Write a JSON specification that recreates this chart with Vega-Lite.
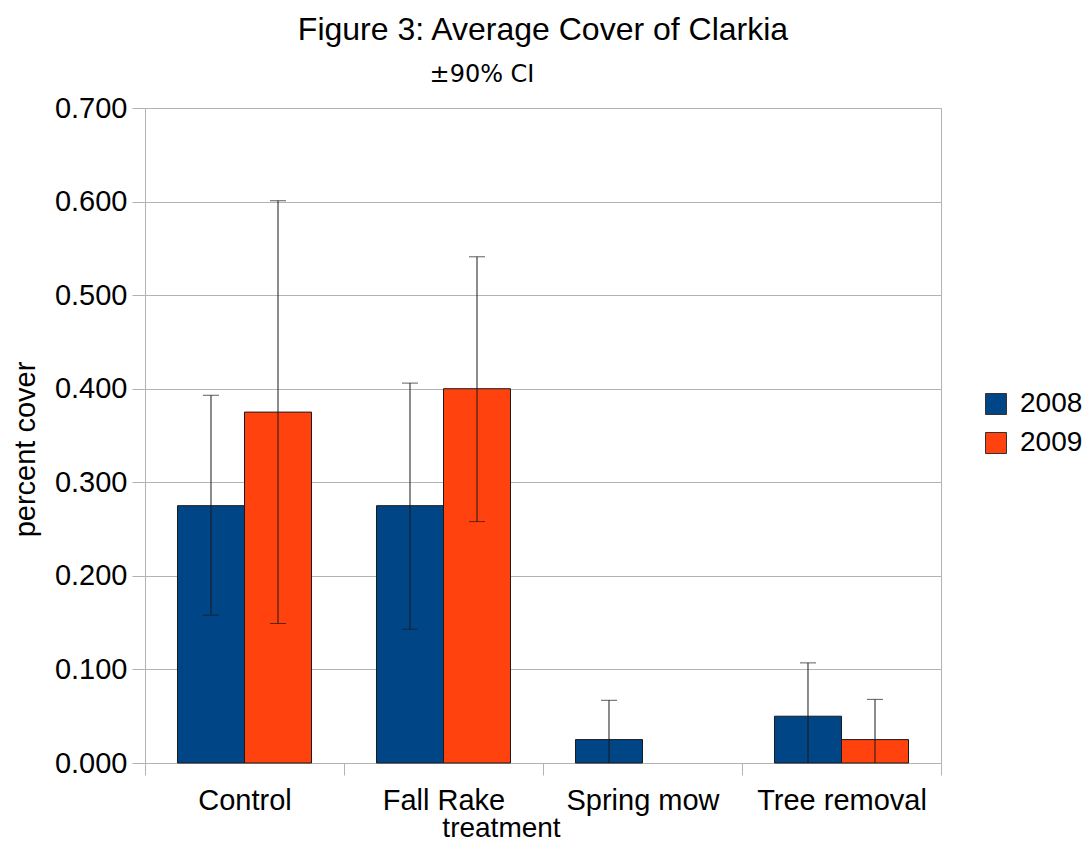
{
  "$schema": "https://vega.github.io/schema/vega-lite/v6.json",
  "width": 796,
  "height": 655,
  "autosize": {"type": "none"},
  "padding": {"left": 145, "top": 108, "right": 142, "bottom": 79},
  "background": "white",
  "title": {
    "text": "Figure 3: Average Cover of Clarkia",
    "subtitle": "±90% CI\u00a0\u00a0\u00a0\u00a0\u00a0\u00a0\u00a0\u00a0\u00a0\u00a0\u00a0\u00a0\u00a0\u00a0\u00a0\u00a0\u200b",
    "anchor": "middle",
    "frame": "group",
    "font": "Liberation Sans",
    "fontSize": 32,
    "fontWeight": "normal",
    "color": "black",
    "subtitleFont": "DejaVu Sans",
    "subtitleFontSize": 24,
    "subtitleColor": "black",
    "subtitlePadding": 16,
    "offset": 6
  },
  "config": {
    "font": "Liberation Sans",
    "view": {"stroke": "#b3b3b3", "strokeWidth": 1}
  },
  "data": {
    "values": [
      {"treatment": "Control", "year": "2008", "cover": 0.275, "lo": 0.158, "hi": 0.393},
      {"treatment": "Control", "year": "2009", "cover": 0.375, "lo": 0.149, "hi": 0.601},
      {"treatment": "Fall Rake", "year": "2008", "cover": 0.275, "lo": 0.143, "hi": 0.406},
      {"treatment": "Fall Rake", "year": "2009", "cover": 0.400, "lo": 0.258, "hi": 0.541},
      {"treatment": "Spring mow", "year": "2008", "cover": 0.025, "lo": 0.0, "hi": 0.067},
      {"treatment": "Spring mow", "year": "2009", "cover": 0.0, "lo": null, "hi": null},
      {"treatment": "Tree removal", "year": "2008", "cover": 0.050, "lo": 0.0, "hi": 0.107},
      {"treatment": "Tree removal", "year": "2009", "cover": 0.025, "lo": 0.0, "hi": 0.068}
    ]
  },
  "encoding": {
    "x": {
      "field": "treatment",
      "type": "nominal",
      "sort": ["Control", "Fall Rake", "Spring mow", "Tree removal"],
      "scale": {"paddingInner": 0, "paddingOuter": 0},
      "axis": {
        "title": "treatment",
        "labelAngle": 0,
        "tickBand": "extent",
        "tickSize": 12,
        "tickColor": "#b3b3b3",
        "domainColor": "#b3b3b3",
        "labelFont": "Liberation Sans",
        "labelFontSize": 29,
        "labelColor": "black",
        "labelPadding": 11,
        "titleFont": "Liberation Sans",
        "titleFontSize": 28,
        "titleFontWeight": "normal",
        "titleColor": "black",
        "titleX": 356,
        "titleY": 73,
        "titleAnchor": null,
        "titleAlign": "center",
        "titleBaseline": "alphabetic"
      }
    },
    "xOffset": {
      "field": "year",
      "type": "nominal",
      "scale": {"paddingInner": 0, "paddingOuter": 0.485}
    }
  },
  "layer": [
    {
      "transform": [{"filter": "datum.cover > 0"}],
      "mark": {"type": "bar", "stroke": "#1a1a1a", "strokeWidth": 1},
      "encoding": {
        "y": {
          "field": "cover",
          "type": "quantitative",
          "scale": {"domain": [0, 0.7], "nice": false},
          "axis": {
            "values": [0, 0.1, 0.2, 0.3, 0.4, 0.5, 0.6, 0.7],
            "format": ".3f",
            "tickSize": 13,
            "tickColor": "#b3b3b3",
            "domainColor": "#b3b3b3",
            "gridColor": "#b3b3b3",
            "labelFont": "Liberation Sans",
            "labelFontSize": 29,
            "labelColor": "black",
            "labelPadding": 5,
            "title": "percent cover",
            "titleFont": "Liberation Sans",
            "titleFontSize": 29,
            "titleFontWeight": "normal",
            "titleColor": "black",
            "titleX": -111,
            "titleY": 341,
            "titleAngle": -90,
            "titleAlign": "center",
            "titleBaseline": "alphabetic"
          }
        },
        "color": {
          "field": "year",
          "type": "nominal",
          "scale": {"domain": ["2008", "2009"], "range": ["#004586", "#ff420e"]},
          "legend": {
            "title": null,
            "orient": "none",
            "legendX": 837,
            "legendY": 282,
            "direction": "vertical",
            "padding": 0,
            "symbolType": "square",
            "symbolSize": 441,
            "symbolStrokeColor": "#333333",
            "symbolStrokeWidth": 1,
            "symbolOpacity": 1,
            "labelFont": "Liberation Sans",
            "labelFontSize": 28,
            "labelColor": "black",
            "labelOffset": 10,
            "rowPadding": 11
          }
        }
      }
    },
    {
      "mark": {"type": "rule", "color": "#1a1a1a", "strokeWidth": 1},
      "encoding": {
        "y": {"field": "lo", "type": "quantitative"},
        "y2": {"field": "hi"}
      }
    },
    {
      "mark": {"type": "tick", "color": "#1a1a1a", "thickness": 1, "size": 16},
      "encoding": {
        "y": {"field": "hi", "type": "quantitative"}
      }
    },
    {
      "transform": [{"filter": "datum.lo > 0"}],
      "mark": {"type": "tick", "color": "#1a1a1a", "thickness": 1, "size": 16},
      "encoding": {
        "y": {"field": "lo", "type": "quantitative"}
      }
    }
  ]
}
